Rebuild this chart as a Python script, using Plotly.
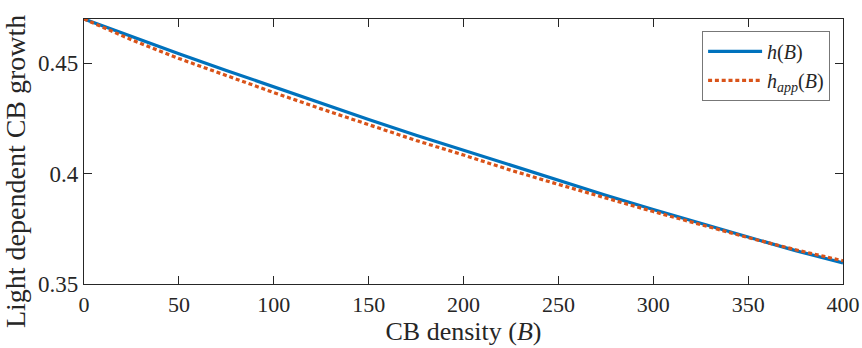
import plotly.graph_objects as go

B = [0, 25, 50, 75, 100, 125, 150, 175, 200, 225, 250, 275, 300, 325, 350, 375, 400]
h_B = [0.4700, 0.4621, 0.4543, 0.4467, 0.4392, 0.4318, 0.4245, 0.4174, 0.4106,
       0.4035, 0.3968, 0.3902, 0.3837, 0.3774, 0.3711, 0.3651, 0.3595]
h_app = [0.4700, 0.4606, 0.4521, 0.4443, 0.4367, 0.4293, 0.4220, 0.4150, 0.4084,
         0.4015, 0.3951, 0.3889, 0.3828, 0.3769, 0.3710, 0.3655, 0.3605]

x_ticks = [0, 50, 100, 150, 200, 250, 300, 350, 400]
y_ticks = [0.35, 0.4, 0.45]
y_tick_labels = ["0.35", "0.4", "0.45"]

FONT = "Liberation Serif"
AX = "#262626"

fig = go.Figure()
fig.add_trace(go.Scatter(x=B, y=h_B, mode="lines", name="<i>h</i>(<i>B</i>)",
                         line=dict(color="#0072BD", width=3.2)))
fig.add_trace(go.Scatter(x=B, y=h_app, mode="lines", name="<i>h<sub>app</sub></i>(<i>B</i>)",
                         line=dict(color="#D95319", width=3.2, dash="4px,2.8px")))

fig.update_layout(
    width=862, height=348,
    margin=dict(l=84, r=19, t=19, b=64, autoexpand=False),
    paper_bgcolor="white", plot_bgcolor="white",
    font=dict(family=FONT, color=AX, size=22),
    showlegend=True,
    legend=dict(x=0.983, y=0.955, xanchor="right", yanchor="top",
                bgcolor="white", bordercolor="#777777", borderwidth=1,
                font=dict(family=FONT, size=20, color=AX),
                itemwidth=54, tracegroupgap=0),
    xaxis=dict(range=[0, 400], tickvals=x_ticks, ticktext=[str(v) for v in x_ticks],
               ticks="inside", ticklen=8, tickwidth=1, tickcolor=AX,
               showline=True, linecolor=AX, linewidth=1.2, mirror="ticks",
               showgrid=False, zeroline=False, automargin=False,
               tickfont=dict(family=FONT, size=22, color=AX),
               title=dict(text="CB density (<i>B</i>)", standoff=6,
                          font=dict(family=FONT, size=26, color=AX))),
    yaxis=dict(range=[0.35, 0.47], tickvals=y_ticks, ticktext=y_tick_labels,
               ticks="inside", ticklen=8, tickwidth=1, tickcolor=AX,
               showline=True, linecolor=AX, linewidth=1.2, mirror="ticks",
               showgrid=False, zeroline=False, automargin=False,
               tickfont=dict(family=FONT, size=23, color=AX)),
    annotations=[dict(text="Light dependent CB growth", textangle=-90,
                      xref="paper", yref="paper", x=-0.09, y=0.425,
                      xanchor="center", yanchor="middle", showarrow=False,
                      font=dict(family=FONT, size=28, color=AX))],
)

fig.write_html("out.html")
